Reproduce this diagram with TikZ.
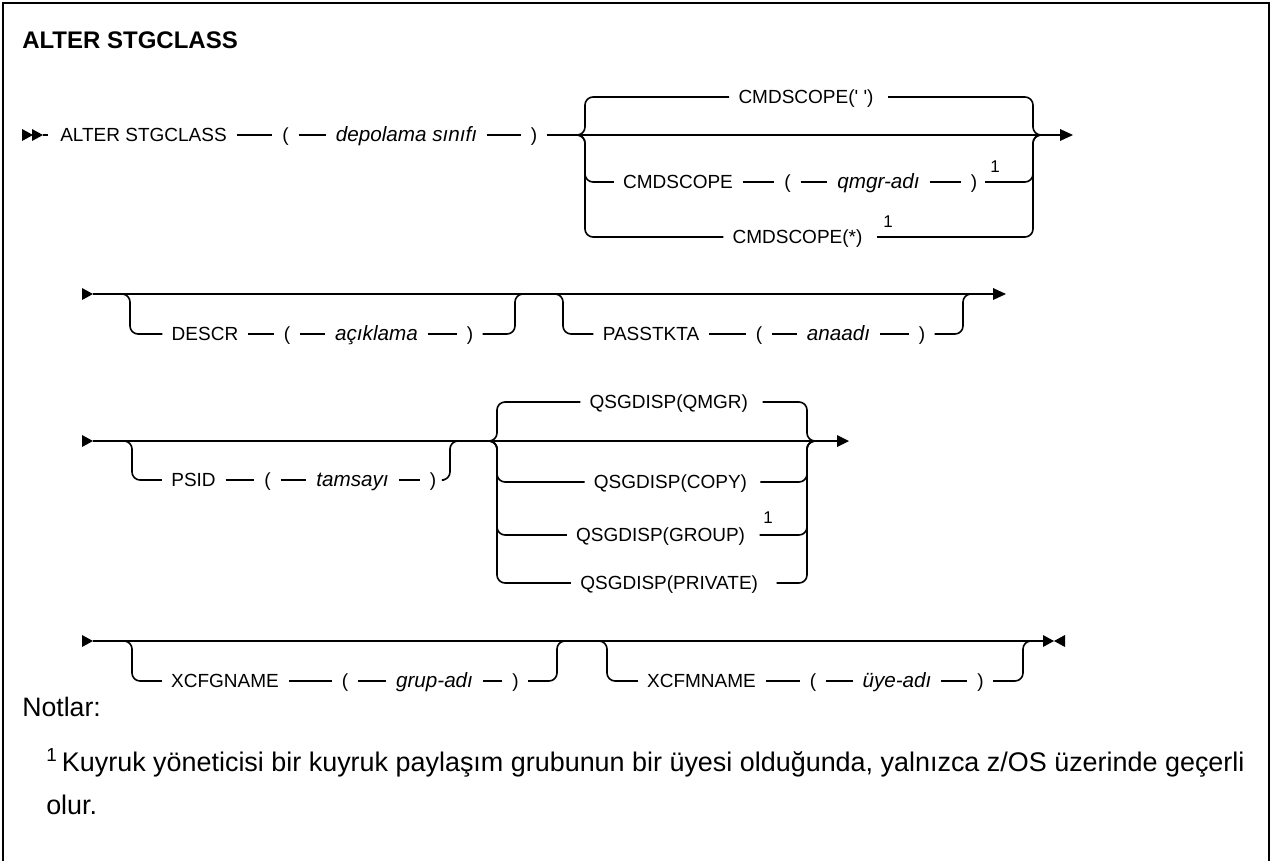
\documentclass[tikz,border=0pt]{standalone}
\usepackage{fontspec}
\setmainfont{Liberation Sans}
\usetikzlibrary{calc}
\begin{document}
\begin{tikzpicture}[x=0.75pt,y=-0.75pt,
  tok/.style={inner sep=0pt, outer sep=0pt, text height=10.2pt, text depth=0pt, font=\fontsize{14.25}{17}\selectfont},
  vartok/.style={tok, font=\fontsize{15.5}{18}\selectfont\itshape},
  supn/.style={inner sep=0pt, font=\fontsize{12.75}{15}\selectfont},
  rail/.style={line width=1.2pt},
  dsh/.style={rail, shorten <=7.5pt, shorten >=7.5pt},
  br/.style={rail, rounded corners=6pt},
  tip/.style={fill=black}]
\useasboundingbox (0,0) rectangle (1274,861);
% frame
\draw[line width=1.6pt] (3,861) -- (3,3) -- (1269,3) -- (1269,861);
% title
\node[anchor=west, inner sep=0pt, text height=12.9pt, text depth=0pt, font=\fontsize{18}{22}\selectfont\bfseries] (title) at (22,40) {ALTER STGCLASS};

% ---------------- row 1
\coordinate (s1) at (43,135);
\coordinate (j1l) at (577,135);
\coordinate (L1) at (585,135);
\coordinate (R1) at (1033,135);
\coordinate (j1r) at (1041,135);
\coordinate (e1) at (1060,135);
\fill[tip] (22,129) -- (33,135) -- (22,141) -- cycle;
\fill[tip] (s1) -- ++(-11,-6) -- ++(0,12) -- cycle;
\node[tok] (t1) at (143.5,135) {ALTER STGCLASS};
\node[tok] (lp1) at (285.5,135) {(};
\node[vartok] (v1) at (406.5,135) {depolama sınıfı};
\node[tok] (rp1) at (534,135) {)};
\draw[rail, shorten >=9pt] (s1) -- (t1.west);
\draw[dsh] (t1) -- (lp1);
\draw[dsh] (lp1) -- (v1);
\draw[dsh] (v1) -- (rp1);
\draw[rail, shorten <=7pt] (rp1) -- (e1);
\fill[tip] (e1) -- ++(0,-6) -- ++(13,6) -- ++(-13,6) -- cycle;

\node[tok] (c1a) at (806,97) {CMDSCOPE(\textquotesingle\ \textquotesingle)};
\draw[br, shorten >=7pt] (j1l) -| (L1 |- c1a) -- (c1a.west);
\draw[br, shorten <=11pt] (c1a.east) -| (R1) -- (j1r);

\node[tok] (c1b) at (678,182) {CMDSCOPE};
\node[tok] (lp2) at (787.5,182) {(};
\node[vartok] (v2) at (878.5,182) {qmgr-adı};
\node[tok] (rp2) at (974,182) {)};
\node[supn] (n1) at (995,167) {1};
\draw[br, shorten >=7pt] (j1l) -| (L1 |- c1b) -- (c1b.west);
\draw[dsh] (c1b) -- (lp2);
\draw[dsh] (lp2) -- (v2);
\draw[dsh] (v2) -- (rp2);
\draw[br, shorten <=6pt] (rp2.east) -| (R1) -- (j1r);

\node[tok] (c1c) at (797.5,237) {CMDSCOPE(*)};
\node[supn] (n2) at (888,222) {1};
\draw[br, shorten >=7pt] (j1l) -| (L1 |- c1c) -- (c1c.west);
\draw[br, shorten <=11pt] (c1c.east) -| (R1) -- (j1r);

% ---------------- row 2
\coordinate (s2) at (93,294);
\coordinate (e2) at (993,294);
\coordinate (ja) at (122,294);
\coordinate (La) at (130,294);
\coordinate (Ra) at (515,294);
\coordinate (jb) at (523,294);
\coordinate (jc) at (555,294);
\coordinate (Lb) at (563,294);
\coordinate (Rb) at (963,294);
\coordinate (jd) at (971,294);
\fill[tip] (s2) -- ++(-11,-6) -- ++(0,12) -- cycle;
\draw[rail] (s2) -- (e2);
\fill[tip] (e2) -- ++(0,-6) -- ++(13,6) -- ++(-13,6) -- cycle;

\node[tok] (d1) at (205,334) {DESCR};
\node[tok] (lp3) at (287,334) {(};
\node[vartok] (v3) at (376.5,334) {açıklama};
\node[tok] (rp3) at (470,334) {)};
\draw[br, shorten >=7pt] (ja) -| (La |- d1) -- (d1.west);
\draw[dsh] (d1) -- (lp3);
\draw[dsh] (lp3) -- (v3);
\draw[dsh] (v3) -- (rp3);
\draw[br, shorten <=7pt] (rp3.east) -| (Ra) -- (jb);

\node[tok] (p1) at (651,334) {PASSTKTA};
\node[tok] (lp4) at (759,334) {(};
\node[vartok] (v4) at (838.5,334) {anaadı};
\node[tok] (rp4) at (922,334) {)};
\draw[br, shorten >=7pt] (jc) -| (Lb |- p1) -- (p1.west);
\draw[dsh] (p1) -- (lp4);
\draw[dsh] (lp4) -- (v4);
\draw[dsh] (v4) -- (rp4);
\draw[br, shorten <=7pt] (rp4.east) -| (Rb) -- (jd);

% ---------------- row 3
\coordinate (s3) at (93,441);
\coordinate (e3) at (837,441);
\coordinate (je) at (124,441);
\coordinate (Lc) at (132,441);
\coordinate (Rc) at (450,441);
\coordinate (jf) at (458,441);
\coordinate (jg) at (489,441);
\coordinate (Ld) at (497,441);
\coordinate (Rd) at (807,441);
\coordinate (jh) at (815,441);
\fill[tip] (s3) -- ++(-11,-6) -- ++(0,12) -- cycle;
\draw[rail] (s3) -- (e3);
\fill[tip] (e3) -- ++(0,-6) -- ++(12,6) -- ++(-12,6) -- cycle;

\node[tok] (ps) at (193.5,480) {PSID};
\node[tok] (lp5) at (267.5,480) {(};
\node[vartok] (v5) at (352.5,480) {tamsayı};
\node[tok] (rp5) at (433,480) {)};
\draw[br, shorten >=7pt] (je) -| (Lc |- ps) -- (ps.west);
\draw[dsh] (ps) -- (lp5);
\draw[dsh] (lp5) -- (v5);
\draw[dsh] (v5) -- (rp5);
\draw[br, shorten <=6pt] (rp5.east) -| (Rc) -- (jf);

\node[tok, anchor=east] (q1) at (748,402) {QSGDISP(QMGR)};
\node[tok, anchor=east] (q2) at (747,482) {QSGDISP(COPY)};
\node[tok, anchor=east] (q3) at (745,535) {QSGDISP(GROUP)};
\node[tok, anchor=east] (q4) at (758,583) {QSGDISP(PRIVATE)};
\node[supn] (n3) at (768,518) {1};
\draw[br, shorten >=7pt] (jg) -| (Ld |- q1) -- (q1.west);
\draw[br, shorten <=11pt] (q1.east) -| (Rd) -- (jh);
\draw[br, shorten >=7pt] (jg) -| (Ld |- q2) -- (q2.west);
\draw[br, shorten <=10pt] (q2.east) -| (Rd) -- (jh);
\draw[br, shorten >=7pt] (jg) -| (Ld |- q3) -- (q3.west);
\draw[br, shorten <=11pt] (q3.east) -| (Rd) -- (jh);
\draw[br, shorten >=7pt] (jg) -| (Ld |- q4) -- (q4.west);
\draw[br, shorten <=14pt] (q4.east) -| (Rd) -- (jh);

% ---------------- row 4
\coordinate (s4) at (93,641);
\coordinate (e4) at (1043,641);
\coordinate (ji) at (124,641);
\coordinate (Le) at (132,641);
\coordinate (Rf) at (557,641);
\coordinate (jj) at (565,641);
\coordinate (jk) at (599,641);
\coordinate (Lf) at (607,641);
\coordinate (Rg) at (1023,641);
\coordinate (jl) at (1031,641);
\fill[tip] (s4) -- ++(-11,-6) -- ++(0,12) -- cycle;
\draw[rail] (s4) -- (e4);
\fill[tip] (e4) -- ++(0,-6) -- ++(11,6) -- ++(-11,6) -- cycle;
\fill[tip] (1065,635) -- (1054,641) -- (1065,647) -- cycle;

\node[tok] (x1) at (225,681) {XCFGNAME};
\node[tok] (lp6) at (345,681) {(};
\node[vartok] (v6) at (434.5,681) {grup-adı};
\node[tok] (rp6) at (515.5,681) {)};
\draw[br, shorten >=7pt] (ji) -| (Le |- x1) -- (x1.west);
\draw[dsh] (x1) -- (lp6);
\draw[dsh] (lp6) -- (v6);
\draw[dsh] (v6) -- (rp6);
\draw[br, shorten <=7pt] (rp6.east) -| (Rf) -- (jj);

\node[tok] (x2) at (701.5,681) {XCFMNAME};
\node[tok] (lp7) at (813,681) {(};
\node[vartok] (v7) at (897,681) {üye-adı};
\node[tok] (rp7) at (980.5,681) {)};
\draw[br, shorten >=7pt] (jk) -| (Lf |- x2) -- (x2.west);
\draw[dsh] (x2) -- (lp7);
\draw[dsh] (lp7) -- (v7);
\draw[dsh] (v7) -- (rp7);
\draw[br, shorten <=7pt] (rp7.east) -| (Rg) -- (jl);

% ---------------- notes
\node[anchor=west, inner sep=0pt, text height=14.3pt, text depth=0pt, font=\fontsize{20}{32}\selectfont] (nt) at (22,707) {Notlar:};
\node[anchor=base west, inner sep=0pt, align=left, font=\fontsize{20.2}{32.25}\selectfont] (fn) at (46,814.5)
  {\textsuperscript{1}\,Kuyruk yöneticisi bir kuyruk paylaşım grubunun bir üyesi olduğunda, yalnızca z/OS üzerinde geçerli\\olur.};
\end{tikzpicture}
\end{document}
